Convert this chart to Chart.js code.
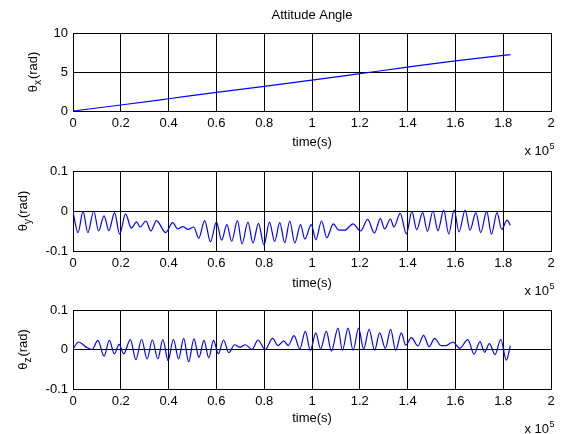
<!DOCTYPE html>
<html><head><meta charset="utf-8">
<script src="https://cdn.jsdelivr.net/npm/chart.js@4"></script>
<style>
html,body{margin:0;padding:0;background:#fff;}
#wrap{position:relative;width:564px;height:434px;overflow:hidden;background:#fff;}
canvas{position:absolute;left:0;}
</style></head><body>
<div id="wrap">
<canvas id="c1" width="564" height="160" style="top:0px"></canvas>
<canvas id="c2" width="564" height="145" style="top:155px"></canvas>
<canvas id="c3" width="564" height="139" style="top:295px"></canvas>
</div>
<script>
// ---------- data ----------
const chartTitle = 'Attitude Angle';
const xAxisTitle = 'time(s)';
const xTickValues = [0,20000,40000,60000,80000,100000,120000,140000,160000,180000,200000];
const xTickLabels = ['0','0.2','0.4','0.6','0.8','1','1.2','1.4','1.6','1.8','2'];
const y1TickValues = [0,5,10];
const y1TickLabels = ['0','5','10'];
const y23TickValues = [-0.1,0,0.1];
const y23TickLabels = ['-0.1','0','0.1'];

const thetaXTime = [0,20000,40000,60000,80000,100000,120000,140000,160000,183000];
const thetaXValues = [0,0.77,1.57,2.38,3.15,3.96,4.79,5.62,6.43,7.23];

const thetaYTime = [
  0,2100,4200,6200,8700,10700,13000,15000,17400,19500,
  22000,24400,26600,28100,30500,32600,34900,38800,41700,43800,
  46000,48100,50500,52600,55100,57500,60000,62200,64400,66400,
  68800,70700,73200,75300,77600,79900,82200,84400,86500,88600,
  90700,92800,95200,97000,99700,101600,104000,106200,108900,111000,
  113700,117200,120300,123300,126100,128600,130400,132800,134300,136900,
  139500,141800,143800,146300,148300,150600,152700,155100,157200,159500,
  161500,164100,166100,168600,170600,173100,175100,177400,179400,181600,
  183000];
const thetaYValues = [
  -0.002,-0.054,-0.001,-0.054,0.000,-0.050,-0.012,-0.049,-0.004,-0.058,
  -0.007,-0.043,-0.027,-0.040,-0.025,-0.050,-0.024,-0.054,-0.029,-0.045,
  -0.039,-0.046,-0.040,-0.068,-0.024,-0.077,-0.028,-0.073,-0.034,-0.076,
  -0.024,-0.082,-0.028,-0.080,-0.031,-0.085,-0.028,-0.076,-0.029,-0.079,
  -0.025,-0.080,-0.034,-0.070,-0.034,-0.072,-0.025,-0.067,-0.032,-0.047,
  -0.048,-0.032,-0.050,-0.021,-0.055,-0.019,-0.045,-0.020,-0.040,-0.006,
  -0.057,-0.001,-0.047,-0.004,-0.051,0.000,-0.049,0.002,-0.057,0.002,
  -0.052,0.002,-0.048,-0.004,-0.054,-0.001,-0.058,-0.004,-0.046,-0.023,
  -0.036];

const thetaZTime = [
  0,2400,5500,8000,10400,13000,15200,17300,19300,21200,
  24000,26300,28700,31000,33200,35500,37600,39800,42000,44200,
  46300,48400,50600,52700,54800,56800,58800,60800,63000,65200,
  67600,69800,72200,74900,77400,80400,83500,85800,88200,90000,
  92500,94900,97200,99300,101600,103600,106000,108100,110900,112700,
  115100,117200,119500,121600,123900,126200,128300,130700,132900,135000,
  137400,139200,141600,144300,146700,149000,151300,154000,156000,159000,
  161800,165200,167800,170300,172200,174200,176600,179000,181300,183000];
const thetaZValues = [
  0.002,0.019,0.006,0.000,0.023,-0.017,0.023,-0.011,0.013,-0.011,
  0.025,-0.026,0.026,-0.024,0.024,-0.024,0.025,-0.028,0.026,-0.024,
  0.028,-0.031,0.027,-0.020,0.023,-0.021,0.023,-0.011,0.024,-0.008,
  0.012,0.006,0.012,0.000,0.024,0.000,0.028,0.010,0.022,0.010,
  0.035,0.001,0.046,-0.002,0.042,0.001,0.046,-0.004,0.054,-0.002,
  0.054,-0.002,0.054,0.001,0.051,-0.002,0.042,0.003,0.051,-0.002,
  0.042,0.011,0.030,0.009,0.036,0.007,0.028,0.010,0.010,0.019,
  0.003,0.025,-0.012,0.020,-0.007,0.015,-0.013,0.026,-0.027,0.010];

// ---------- drawing ----------
const FAM = '"Liberation Sans", Arial, sans-serif';
const FS = 13;
Chart.defaults.font.family = FAM;
Chart.defaults.font.size = FS;
Chart.defaults.color = '#000';

const decor = {
  id: 'decor',
  afterDraw(chart, args, o) {
    const {ctx, chartArea: a} = chart;
    ctx.save();
    ctx.fillStyle = '#000';
    if (o.title) {
      ctx.font = FS + 'px ' + FAM;
      ctx.textAlign = 'center';
      ctx.textBaseline = 'middle';
      ctx.fillText(o.title, (a.left + a.right) / 2, a.top - 18);
    }
    // exponent label
    ctx.textAlign = 'left';
    ctx.textBaseline = 'alphabetic';
    ctx.font = FS + 'px ' + FAM;
    const w1 = ctx.measureText('x 10').width;
    ctx.font = '9px ' + FAM;
    const w2 = ctx.measureText('5').width;
    const x0 = a.right + 3 - w1 - w2;
    ctx.font = FS + 'px ' + FAM;
    ctx.fillText('x 10', x0, a.bottom + 44);
    ctx.font = '9px ' + FAM;
    ctx.fillText('5', x0 + w1 + 0.5, a.bottom + 38);
    // y label with subscript
    ctx.translate(o.ylabelX, (a.top + a.bottom) / 2);
    ctx.rotate(-Math.PI / 2);
    ctx.font = FS + 'px ' + FAM;
    const wa = ctx.measureText('\u03b8').width;
    const wc = ctx.measureText('(rad)').width;
    ctx.font = '10px ' + FAM;
    const wb = ctx.measureText(o.sub).width;
    let x = -(wa + wb + wc + 1) / 2;
    ctx.font = FS + 'px ' + FAM;
    ctx.fillText('\u03b8', x, 0); x += wa;
    ctx.font = '10px ' + FAM;
    ctx.fillText(o.sub, x, 4); x += wb + 1;
    ctx.font = FS + 'px ' + FAM;
    ctx.fillText('(rad)', x, 0);
    ctx.restore();
  }
};

function makeChart(id, times, values, yMin, yMax, yTicks, yLabels, cfg) {
  const H = document.getElementById(id).height;
  return new Chart(document.getElementById(id), {
    type: 'line',
    data: { datasets: [{
      data: times.map((t, i) => ({x: t, y: values[i]})),
      borderColor: '#0000ff', borderWidth: 1.2, pointRadius: 0,
      cubicInterpolationMode: 'monotone', fill: false
    }]},
    options: {
      responsive: false, animation: false, events: [],
      layout: { padding: { top: cfg.top, right: 13, left: 0, bottom: 0 } },
      plugins: { legend: { display: false }, tooltip: { enabled: false },
        decor: { title: cfg.title, sub: cfg.sub, ylabelX: cfg.ylabelX } },
      scales: {
        x: {
          type: 'linear', min: 0, max: 200000,
          afterBuildTicks: s => { s.ticks = xTickValues.map(v => ({value: v})); },
          afterFit: s => { s.height = H - cfg.bottom; },
          ticks: { padding: 5, maxRotation: 0, autoSkip: false,
            callback: (v, i) => xTickLabels[i] },
          grid: { color: '#000', lineWidth: 1, drawTicks: false },
          border: { color: '#000', width: 1 },
          title: { display: true, text: xAxisTitle, padding: { top: 0, bottom: cfg.xtPad } }
        },
        y: {
          type: 'linear', min: yMin, max: yMax,
          afterBuildTicks: s => { s.ticks = yTicks.map(v => ({value: v})); },
          afterFit: s => { s.width = 73; },
          ticks: { padding: 5, autoSkip: false, callback: (v, i) => yLabels[i] },
          grid: { color: '#000', lineWidth: 1, drawTicks: false },
          border: { color: '#000', width: 1 }
        }
      }
    },
    plugins: [decor]
  });
}

makeChart('c1', thetaXTime, thetaXValues, 0, 10, y1TickValues, y1TickLabels,
  { top: 33, bottom: 111, title: chartTitle, sub: 'x', ylabelX: 37, xtPad: 10 });
makeChart('c2', thetaYTime, thetaYValues, -0.1, 0.1, y23TickValues, y23TickLabels,
  { top: 16, bottom: 96, sub: 'y', ylabelX: 27, xtPad: 9 });
makeChart('c3', thetaZTime, thetaZValues, -0.1, 0.1, y23TickValues, y23TickLabels,
  { top: 15, bottom: 94, sub: 'z', ylabelX: 27, xtPad: 8 });
</script>
</body></html>
